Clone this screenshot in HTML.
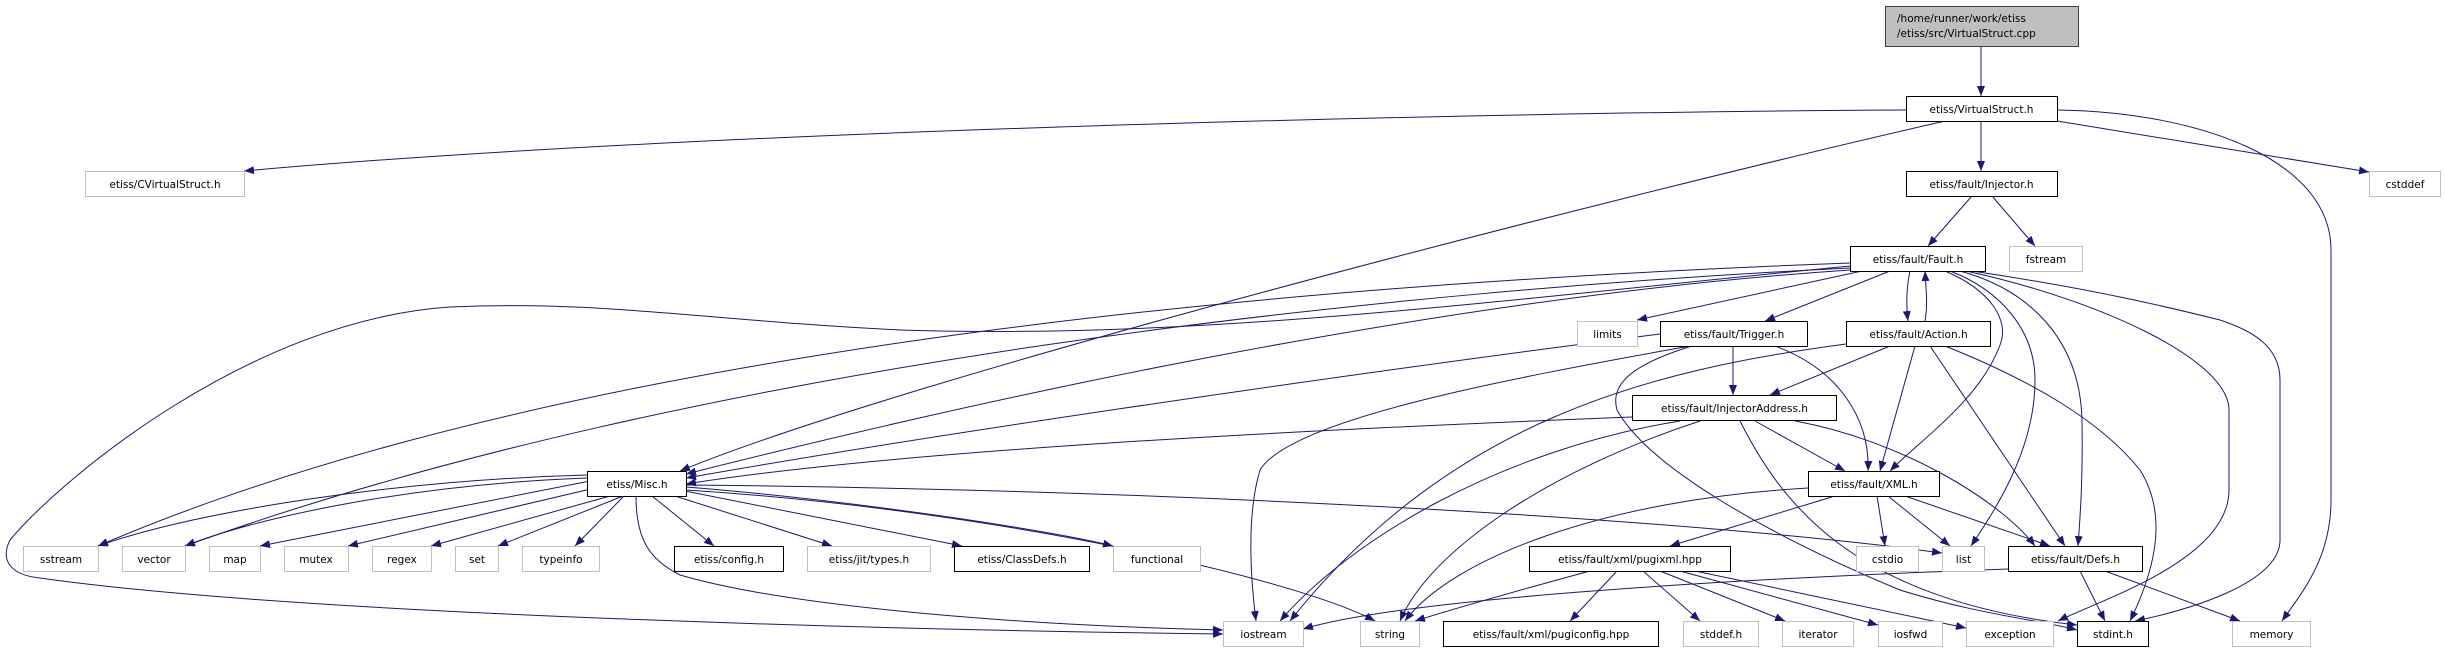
<!DOCTYPE html>
<html><head><meta charset="utf-8"><style>
html,body{margin:0;padding:0;background:#fff;}
svg{display:block}
text{font-family:"DejaVu Sans","Liberation Sans",sans-serif;font-size:10.5px;fill:#000}
.s{fill:#fff;stroke:#bfbfbf;stroke-width:1}
.p{fill:#fff;stroke:#000;stroke-width:1}
.e{fill:none;stroke:#191970;stroke-width:1}
</style></head><body>
<svg width="2445" height="649" viewBox="0 0 2445 649" xmlns="http://www.w3.org/2000/svg">
<defs><marker id="a" markerUnits="userSpaceOnUse" markerWidth="10" markerHeight="8" refX="10" refY="4" orient="auto"><path d="M0,0 L10,4 L0,8 z" fill="#191970"/></marker></defs>
<g class="e" marker-end="url(#a)">
<path d="M1981,46 L1981,96"/>
<path d="M1981,121 L1981,171"/>
<path d="M1906,110 C1500,112 700,130 244,171"/>
<path d="M1945,121 C1600,200 900,380 680,471"/>
<path d="M2057,121 L2369,172"/>
<path d="M2057,110 C2200,112 2331,160 2331,250 L2331,500 C2331,560 2300,595 2282,621"/>
<path d="M1972,196 L1928,246"/>
<path d="M1992,196 L2035,246"/>
<path d="M1890,271 L1765,321"/>
<path d="M1910,271 C1906,290 1906,305 1908,321"/>
<path d="M1925,321 C1928,305 1926,290 1925,271"/>
<path d="M1862,271 L1637,320"/>
<path d="M1945,271 C1990,290 2010,320 2000,345 C1980,400 1920,440 1890,471"/>
<path d="M1950,271 C2000,290 2035,330 2035,380 C2035,450 1995,510 1971,546"/>
<path d="M1960,271 C2030,290 2080,340 2082,420 C2083,480 2080,520 2078,546"/>
<path d="M1966,271 C2100,300 2229,360 2229,410 L2229,490 C2229,560 2100,600 2058,621"/>
<path d="M1972,271 C2100,290 2180,310 2220,320 C2250,330 2280,345 2280,380 L2280,540 C2280,585 2180,612 2135,621"/>
<path d="M1850,266 C1500,300 1200,340 900,330 C700,320 600,300 450,307 C250,320 60,480 10,540 C0,560 10,575 40,578 C300,615 900,630 1223,634"/>
<path d="M1850,263 C1400,280 600,330 98,546"/>
<path d="M1850,268 C1400,290 700,360 185,546"/>
<path d="M1850,270 C1400,300 900,420 686,474"/>
<path d="M1733,346 L1733,395"/>
<path d="M1775,346 C1840,370 1870,420 1868,471"/>
<path d="M1690,346 C1500,380 1290,420 1260,470 C1245,520 1252,590 1256,621"/>
<path d="M1692,346 C1630,365 1610,385 1617,410 C1650,470 1780,540 1900,590 C1980,615 2040,620 2077,630"/>
<path d="M1660,334 C1300,380 900,440 686,478"/>
<path d="M1890,346 L1770,395"/>
<path d="M1915,346 L1880,471"/>
<path d="M1930,346 L2065,546"/>
<path d="M1945,346 C2030,380 2100,420 2140,470 C2165,510 2160,560 2130,621"/>
<path d="M1846,344 C1650,370 1450,420 1290,621"/>
<path d="M1632,417 C1300,430 900,450 686,484"/>
<path d="M1680,421 C1500,450 1350,540 1280,621"/>
<path d="M1700,421 C1550,470 1430,550 1400,621"/>
<path d="M1755,421 L1845,471"/>
<path d="M1795,421 C1900,440 2000,500 2035,546"/>
<path d="M1740,421 C1780,500 1850,600 2077,625"/>
<path d="M1808,488 C1600,500 1450,560 1405,621"/>
<path d="M1835,496 L1670,546"/>
<path d="M1877,496 L1885,546"/>
<path d="M1888,496 L1950,546"/>
<path d="M1905,496 L2050,546"/>
<path d="M1590,571 C1520,590 1450,610 1415,621"/>
<path d="M1617,571 L1570,621"/>
<path d="M1643,571 L1700,621"/>
<path d="M1660,571 L1785,621"/>
<path d="M1680,571 L1878,625"/>
<path d="M1695,571 L1966,628"/>
<path d="M2008,569 C1700,580 1400,600 1303,629"/>
<path d="M2080,571 L2105,621"/>
<path d="M2105,571 L2240,621"/>
<path d="M587,475 C400,480 200,510 98,546"/>
<path d="M587,478 C400,485 250,520 185,546"/>
<path d="M590,481 L260,546"/>
<path d="M595,488 L348,546"/>
<path d="M610,496 L431,546"/>
<path d="M623,496 L498,546"/>
<path d="M624,496 L575,546"/>
<path d="M652,496 L714,546"/>
<path d="M675,496 L832,546"/>
<path d="M685,491 L962,546"/>
<path d="M686,487 C850,500 1050,530 1113,546"/>
<path d="M686,485 C1200,490 1700,520 1942,553"/>
<path d="M686,490 C1000,510 1300,580 1375,621"/>
<path d="M636,496 C636,540 650,560 680,575 C800,610 1050,626 1223,630"/>
</g>
<rect x="1885.5" y="6.5" width="193" height="40" fill="#bfbfbf" stroke="#404040"/>
<text x="1897" y="22">/home/runner/work/etiss</text>
<text x="1897" y="37">/etiss/src/VirtualStruct.cpp</text>
<g text-anchor="middle">
<rect class="p" x="1906.5" y="96.5" width="151" height="25"/><text x="1981.5" y="113">etiss/VirtualStruct.h</text>
<rect class="s" x="85.5" y="171.5" width="159" height="25"/><text x="165" y="188">etiss/CVirtualStruct.h</text>
<rect class="p" x="1906.5" y="171.5" width="151" height="25"/><text x="1981.5" y="188">etiss/fault/Injector.h</text>
<rect class="s" x="2369.5" y="171.5" width="71" height="25"/><text x="2405" y="188">cstddef</text>
<rect class="p" x="1850.5" y="246.5" width="135" height="25"/><text x="1918" y="263">etiss/fault/Fault.h</text>
<rect class="s" x="2009.5" y="246.5" width="73" height="25"/><text x="2046" y="263">fstream</text>
<rect class="s" x="1577.5" y="321.5" width="60" height="25"/><text x="1607.5" y="338">limits</text>
<rect class="p" x="1660.5" y="321.5" width="147" height="25"/><text x="1734" y="338">etiss/fault/Trigger.h</text>
<rect class="p" x="1846.5" y="321.5" width="144" height="25"/><text x="1918.5" y="338">etiss/fault/Action.h</text>
<rect class="p" x="1632.5" y="395.5" width="204" height="25"/><text x="1734.5" y="412">etiss/fault/InjectorAddress.h</text>
<rect class="p" x="587.5" y="471.5" width="99" height="25"/><text x="637" y="488">etiss/Misc.h</text>
<rect class="p" x="1808.5" y="471.5" width="131" height="25"/><text x="1874" y="488">etiss/fault/XML.h</text>
<rect class="s" x="23.5" y="546.5" width="75" height="25"/><text x="61" y="563">sstream</text>
<rect class="s" x="122.5" y="546.5" width="63" height="25"/><text x="154" y="563">vector</text>
<rect class="s" x="209.5" y="546.5" width="51" height="25"/><text x="235" y="563">map</text>
<rect class="s" x="284.5" y="546.5" width="64" height="25"/><text x="316" y="563">mutex</text>
<rect class="s" x="372.5" y="546.5" width="59" height="25"/><text x="402" y="563">regex</text>
<rect class="s" x="455.5" y="546.5" width="43" height="25"/><text x="477" y="563">set</text>
<rect class="s" x="522.5" y="546.5" width="77" height="25"/><text x="561" y="563">typeinfo</text>
<rect class="p" x="674.5" y="546.5" width="109" height="25"/><text x="729" y="563">etiss/config.h</text>
<rect class="s" x="807.5" y="546.5" width="123" height="25"/><text x="869" y="563">etiss/jit/types.h</text>
<rect class="p" x="954.5" y="546.5" width="135" height="25"/><text x="1022" y="563">etiss/ClassDefs.h</text>
<rect class="s" x="1113.5" y="546.5" width="87" height="25"/><text x="1157" y="563">functional</text>
<rect class="p" x="1529.5" y="546.5" width="201" height="25"/><text x="1630" y="563">etiss/fault/xml/pugixml.hpp</text>
<rect class="s" x="1856.5" y="546.5" width="62" height="25"/><text x="1887.5" y="563">cstdio</text>
<rect class="s" x="1942.5" y="546.5" width="42" height="25"/><text x="1963.5" y="563">list</text>
<rect class="p" x="2008.5" y="546.5" width="134" height="25"/><text x="2075.5" y="563">etiss/fault/Defs.h</text>
<rect class="s" x="1223.5" y="621.5" width="80" height="25"/><text x="1263.5" y="638">iostream</text>
<rect class="s" x="1360.5" y="621.5" width="59" height="25"/><text x="1390" y="638">string</text>
<rect class="p" x="1443.5" y="621.5" width="215" height="25"/><text x="1551" y="638">etiss/fault/xml/pugiconfig.hpp</text>
<rect class="s" x="1683.5" y="621.5" width="75" height="25"/><text x="1721" y="638">stddef.h</text>
<rect class="s" x="1782.5" y="621.5" width="71" height="25"/><text x="1818" y="638">iterator</text>
<rect class="s" x="1878.5" y="621.5" width="64" height="25"/><text x="1910.5" y="638">iosfwd</text>
<rect class="s" x="1966.5" y="621.5" width="87" height="25"/><text x="2010" y="638">exception</text>
<rect class="p" x="2077.5" y="621.5" width="71" height="25"/><text x="2113" y="638">stdint.h</text>
<rect class="s" x="2232.5" y="621.5" width="78" height="25"/><text x="2271.5" y="638">memory</text>
</g>
</svg>
</body></html>
